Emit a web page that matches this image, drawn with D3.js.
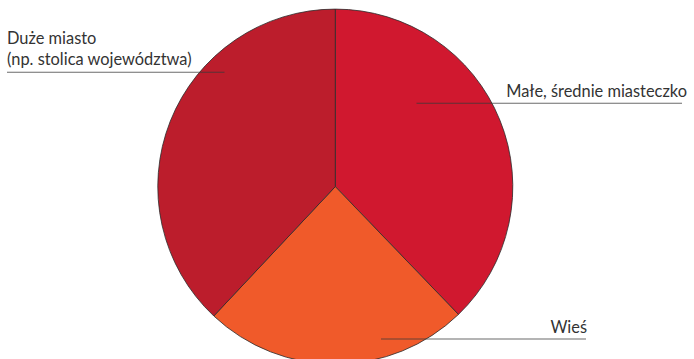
<!DOCTYPE html>
<html>
<head>
<meta charset="utf-8">
<script src="https://cdn.jsdelivr.net/npm/d3@7"></script>
<style>
  html, body { margin: 0; padding: 0; background: #fff; }
  svg { display: block; }
</style>
</head>
<body>
<svg id="chart" width="694" height="359"></svg>
<script>
// Place of residence – share of respondents (%)
const categories = ["Małe, średnie miasteczko", "Wieś", "Duże miasto\n(np. stolica województwa)"];
const values = [37.8, 24.2, 38.0];
const colors = ["#D0182F", "#F05A2A", "#BC1D2C"];

const svg = d3.select("#chart");
const cx = 335.3, cy = 186.6, r = 177.5;

const pie = d3.pie().sort(null).value(d => d.value);
const arcs = pie(categories.map((c, i) => ({ label: c, value: values[i], color: colors[i] })));
const arc = d3.arc().innerRadius(0).outerRadius(r);

const g = svg.append("g").attr("transform", `translate(${cx},${cy})`);
g.selectAll("path.slice")
  .data(arcs)
  .join("path")
  .attr("class", "slice")
  .attr("d", arc)
  .attr("fill", d => d.data.color)
  .attr("stroke", "#2b2b2b")
  .attr("stroke-width", 0.8)
  .attr("stroke-linejoin", "round");

// Leader lines and labels, positioned relative to each slice
const labelLayout = [
  { x1: 416.5, x2: 682, y: 103.3, tx: 687, anchor: "end", ty: [96.5] },
  { x1: 381, x2: 586, y: 339, tx: 587, anchor: "end", ty: [333] },
  { x1: 7, x2: 224.5, y: 72.3, tx: 7, anchor: "start", ty: [44, 65] }
];

const labels = svg.append("g");
arcs.forEach((a, i) => {
  const L = labelLayout[i];
  labels.append("line")
    .attr("x1", L.x1).attr("x2", L.x2)
    .attr("y1", L.y).attr("y2", L.y)
    .attr("stroke", "#3a3a3a")
    .attr("stroke-opacity", 0.75)
    .attr("stroke-width", 1.1);
  const lines = a.data.label.split("\n");
  const t = labels.append("text")
    .attr("text-anchor", L.anchor)
    .attr("font-family", "Lato, 'Open Sans', sans-serif")
    .attr("font-size", 16.4)
    .attr("fill", "#333");
  lines.forEach((s, j) => {
    t.append("tspan").attr("x", L.tx).attr("y", L.ty[j]).text(s);
  });
});
</script>
</body>
</html>
